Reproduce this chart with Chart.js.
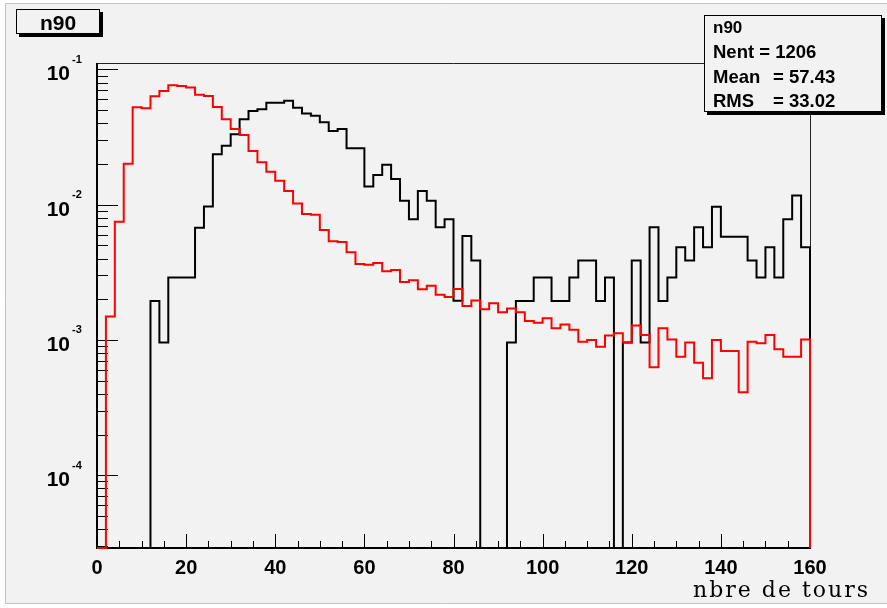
<!DOCTYPE html>
<html>
<head>
<meta charset="utf-8">
<script src="https://cdn.jsdelivr.net/npm/chart.js@4.4.1/dist/chart.umd.min.js"></script>
<style>
html,body{margin:0;padding:0;background:#ffffff;}
#wrap{width:887px;height:608px;position:relative;}
</style>
</head>
<body>
<div id="wrap"><canvas id="c"></canvas></div>
<script>
// ---- data ----
const binLowEdges = [0,2,4,6,8,10,12,14,16,18,20,22,24,26,28,30,32,34,36,38,
  40,42,44,46,48,50,52,54,56,58,60,62,64,66,68,70,72,74,76,78,
  80,82,84,86,88,90,92,94,96,98,100,102,104,106,108,110,112,114,116,118,
  120,122,124,126,128,130,132,134,136,138,140,142,144,146,148,150,152,154,156,158];
const X_MIN = 0;
const X_MAX = 160;

// red histogram (0 = empty bin)
const redValues = [0,0.00149,0.00748,0.0201,0.0525,0.0516,0.0632,0.0692,0.0762,0.0755,
  0.0736,0.0650,0.0636,0.0527,0.0428,0.0362,0.0327,0.0249,0.0206,0.0175,
  0.0150,0.0126,0.0102,0.00853,0.00843,0.00650,0.00537,0.00530,0.00445,0.00364,
  0.00360,0.00371,0.00322,0.00329,0.00268,0.00276,0.00237,0.00252,0.00216,0.00208,
  0.00238,0.00178,0.00196,0.00169,0.00187,0.00160,0.00171,0.00160,0.00138,0.00134,
  0.00145,0.00122,0.00130,0.00119,0.00097,0.00100,0.00089,0.00108,0.00112,0.00096,
  0.00128,0.00109,0.000628,0.00122,0.00101,0.000753,0.00096,0.000679,0.000521,0.00100,
  0.000829,0.000829,0.000410,0.00097,0.000945,0.00109,0.000854,0.000753,0.000753,0.00101];

// black histogram (0 = empty bin)
const blackValues = [0,0,0,0,0,0,0.00194,0.00096,0.00290,0.00290,
  0.00290,0.00676,0.00970,0.0236,0.0273,0.0331,0.0428,0.0492,0.0507,0.0568,
  0.0568,0.0587,0.0521,0.0473,0.0455,0.0406,0.0351,0.0363,0.0261,0.0261,
  0.0136,0.0166,0.0197,0.0155,0.0107,0.00780,0.0126,0.0107,0.00681,0.00780,
  0.00195,0.00587,0.00386,0,0,0,0.00096,0.00194,0.00194,0.00290,
  0.00290,0.00194,0.00194,0.00290,0.00386,0.00386,0.00194,0.00290,0,0.00096,
  0.00386,0.00096,0.00681,0.00194,0.00290,0.00484,0.00386,0.00681,0.00484,0.00966,
  0.00580,0.00580,0.00580,0.00386,0.00290,0.00484,0.00290,0.00780,0.0117,0.00484];

const Y_MIN = 2.9e-5;
const Y_MAX = 0.1115;
const xTickLabels = [0,20,40,60,80,100,120,140,160];
const yDecadeExponents = [-4,-3,-2,-1];
const xTitle = 'nbre de tours';
const histTitle = 'n90';
const statsName = 'n90';
const statsRows = [
  ['Nent = 1206', '', ''],
  ['Mean', '=', '57.43'],
  ['RMS', '=', '33.02']
];

// ---- build datasets ----
function histPoints(values){
  const pts = binLowEdges.map((x, i) => ({x: x, y: values[i] > 0 ? values[i] : Y_MIN}));
  pts.push({x: X_MAX, y: Y_MIN});
  return pts;
}

const SANS = '"Liberation Sans", Arial, Helvetica, sans-serif';
const BG = '#f2f2f2';

const decorPlugin = {
  id: 'rootDecor',
  beforeDraw(chart){
    const ctx = chart.ctx;
    ctx.save();
    ctx.fillStyle = '#ffffff';
    ctx.fillRect(0, 0, chart.width, chart.height);
    ctx.fillStyle = BG;
    ctx.fillRect(5, 3, chart.width - 5, 601);
    ctx.strokeStyle = '#c4c4c4';
    ctx.lineWidth = 1;
    ctx.beginPath();
    ctx.moveTo(chart.width, 3.5); ctx.lineTo(5.5, 3.5); ctx.lineTo(5.5, 603.5); ctx.lineTo(chart.width, 603.5);
    ctx.stroke();
    ctx.restore();
  },
  beforeDatasetsDraw(chart){
    const ctx = chart.ctx;
    const a = chart.chartArea;
    const xs = chart.scales.x, ys = chart.scales.y;
    ctx.save();
    // frame top & right
    ctx.strokeStyle = '#222';
    ctx.lineWidth = 1;
    ctx.beginPath();
    ctx.moveTo(a.left, Math.round(a.top) + 0.5);
    ctx.lineTo(Math.round(a.right) + 0.5, Math.round(a.top) + 0.5);
    ctx.lineTo(Math.round(a.right) + 0.5, a.bottom);
    ctx.stroke();
    // axes left & bottom
    ctx.fillStyle = '#000';
    ctx.fillRect(a.left - 1, a.top, 2, a.bottom - a.top + 1);
    ctx.fillRect(a.left - 1, a.bottom - 1, a.right - a.left + 2, 2);
    // y ticks
    ctx.strokeStyle = '#000';
    ctx.lineWidth = 1;
    ctx.beginPath();
    for (let e = -5; e <= -1; e++){
      for (let m = 1; m <= 9; m++){
        const v = m * Math.pow(10, e);
        if (v < Y_MIN || v > Y_MAX) continue;
        const py = Math.round(ys.getPixelForValue(v)) + 0.5;
        const len = m === 1 ? 21 : 11;
        ctx.moveTo(a.left, py); ctx.lineTo(a.left + len, py);
      }
    }
    // x ticks
    for (let v = X_MIN; v <= X_MAX; v += 5){
      const px = Math.round(xs.getPixelForValue(v)) + 0.5;
      const len = v % 20 === 0 ? 14 : 7;
      ctx.moveTo(px, a.bottom); ctx.lineTo(px, a.bottom - len);
    }
    ctx.stroke();
    ctx.restore();
  },
  afterDraw(chart){
    const ctx = chart.ctx;
    const ys = chart.scales.y;
    ctx.save();
    ctx.fillStyle = '#000';
    // y labels 10^k
    yDecadeExponents.forEach(k => {
      const py = ys.getPixelForValue(Math.pow(10, k));
      ctx.font = 'bold 21px ' + SANS;
      ctx.textAlign = 'right';
      ctx.textBaseline = 'alphabetic';
      ctx.fillText('10', 70, py + 11);
      ctx.font = 'bold 11px ' + SANS;
      ctx.textAlign = 'left';
      ctx.fillText(String(k), 72, py - 6.5);
    });
    // x axis title
    ctx.font = '22px "DejaVu Serif", "Liberation Serif", serif';
    try { ctx.letterSpacing = '2px'; } catch(e) {}
    ctx.textAlign = 'right';
    ctx.textBaseline = 'alphabetic';
    ctx.fillText(xTitle, 870, 597);
    try { ctx.letterSpacing = '0px'; } catch(e) {}

    // title box
    ctx.fillStyle = '#000';
    ctx.fillRect(19, 12, 84, 25);
    ctx.fillStyle = BG;
    ctx.fillRect(16, 9, 84, 25);
    ctx.strokeStyle = '#000';
    ctx.lineWidth = 1;
    ctx.strokeRect(16.5, 9.5, 83, 24);
    ctx.fillStyle = '#000';
    ctx.font = 'bold 21px ' + SANS;
    ctx.textAlign = 'center';
    ctx.fillText(histTitle, 58, 30);

    // stats box
    ctx.fillStyle = '#000';
    ctx.fillRect(707, 18, 178, 97);
    ctx.fillStyle = BG;
    ctx.fillRect(704, 15, 178, 97);
    ctx.strokeRect(704.5, 15.5, 177, 96);
    ctx.fillStyle = '#000';
    ctx.textAlign = 'left';
    ctx.font = 'bold 17px ' + SANS;
    ctx.fillText(statsName, 713, 33);
    ctx.font = 'bold 18.5px ' + SANS;
    const baselines = [58, 83, 107];
    statsRows.forEach((r, i) => {
      ctx.fillText(r[0], 713, baselines[i]);
      if (r[1]) ctx.fillText(r[1], 773, baselines[i]);
      if (r[2]) ctx.fillText(r[2], 789, baselines[i]);
    });
    ctx.restore();
  }
};

new Chart(document.getElementById('c'), {
  type: 'line',
  data: {
    datasets: [
      {label: 'red', data: histPoints(redValues), borderColor: '#ff0000', borderWidth: 2,
       stepped: 'before', pointRadius: 0, fill: false, tension: 0, clip: 2},
      {label: 'black', data: histPoints(blackValues), borderColor: '#000000', borderWidth: 2,
       stepped: 'before', pointRadius: 0, fill: false, tension: 0, clip: 2}
    ]
  },
  options: {
    responsive: true,
    maintainAspectRatio: false,
    animation: false,
    events: [],
    layout: {padding: {left: 0, top: 63, right: 77, bottom: 0}},
    plugins: {legend: {display: false}, tooltip: {enabled: false}, title: {display: false}},
    scales: {
      x: {
        type: 'linear', min: X_MIN, max: X_MAX, position: 'bottom',
        afterFit(s){ s.height = 60; },
        grid: {display: false, drawTicks: false},
        border: {display: false},
        afterBuildTicks(s){ s.ticks = xTickLabels.map(v => ({value: v})); },
        ticks: {autoSkip: false, maxRotation: 0, color: '#000', padding: 8,
                font: {family: SANS, weight: 'bold', size: 20}}
      },
      y: {
        type: 'logarithmic', min: Y_MIN, max: Y_MAX,
        afterFit(s){ s.width = 97; },
        grid: {display: false, drawTicks: false},
        border: {display: false},
        ticks: {display: false}
      }
    }
  },
  plugins: [decorPlugin]
});
</script>
</body>
</html>
